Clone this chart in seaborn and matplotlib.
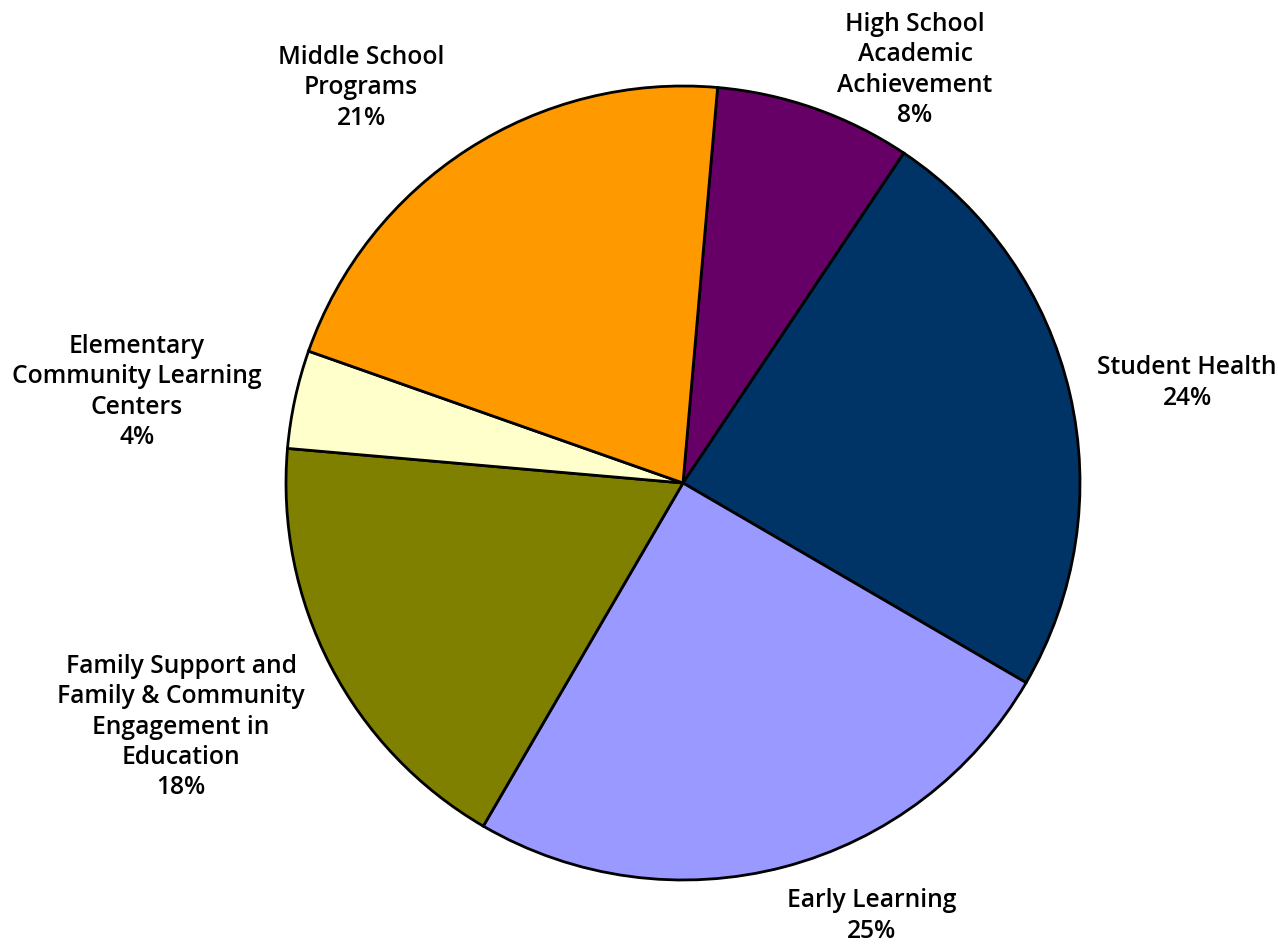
import matplotlib
matplotlib.use("Agg")
import matplotlib.pyplot as plt
import seaborn as sns

sns.set_theme(style="white")
plt.rcParams["font.family"] = ["Open Sans", "DejaVu Sans"]

categories = [
    "High School\nAcademic\nAchievement",
    "Student Health",
    "Early Learning",
    "Family Support and\nFamily & Community\nEngagement in\nEducation",
    "Elementary\nCommunity Learning\nCenters",
    "Middle School\nPrograms",
]
shares = [8, 24, 25, 18, 4, 21]
colors = ["#660066", "#003366", "#9999FF", "#808000", "#FFFFCC", "#FF9900"]
# label anchor points (pixel coordinates of each label block centre)
label_px = [(915, 70), (1187, 383), (872, 916), (181, 727), (137, 392), (361, 88)]

W, H = 1278, 944
cx, cy, r = 683, 483, 397

fig = plt.figure(figsize=(W / 100, H / 100), dpi=100)
ax = fig.add_axes([(cx - r) / W, (H - cy - r) / H, 2 * r / W, 2 * r / H])
ax.pie(
    shares,
    colors=colors,
    startangle=85,
    counterclock=False,
    radius=1,
    wedgeprops=dict(edgecolor="black", linewidth=2),
)
ax.set_xlim(-1, 1)
ax.set_ylim(-1, 1)
ax.set_aspect("equal")
ax.axis("off")

for name, val, (px, py) in zip(categories, shares, label_px):
    ax.text(
        (px - cx) / r,
        (cy - py) / r,
        f"{name}\n{val}%",
        ha="center",
        va="center",
        multialignment="center",
        fontsize=17.7,
        fontweight="semibold",
        linespacing=1.28,
        color="black",
        clip_on=False,
    )

fig.savefig("out.png", dpi=100)
